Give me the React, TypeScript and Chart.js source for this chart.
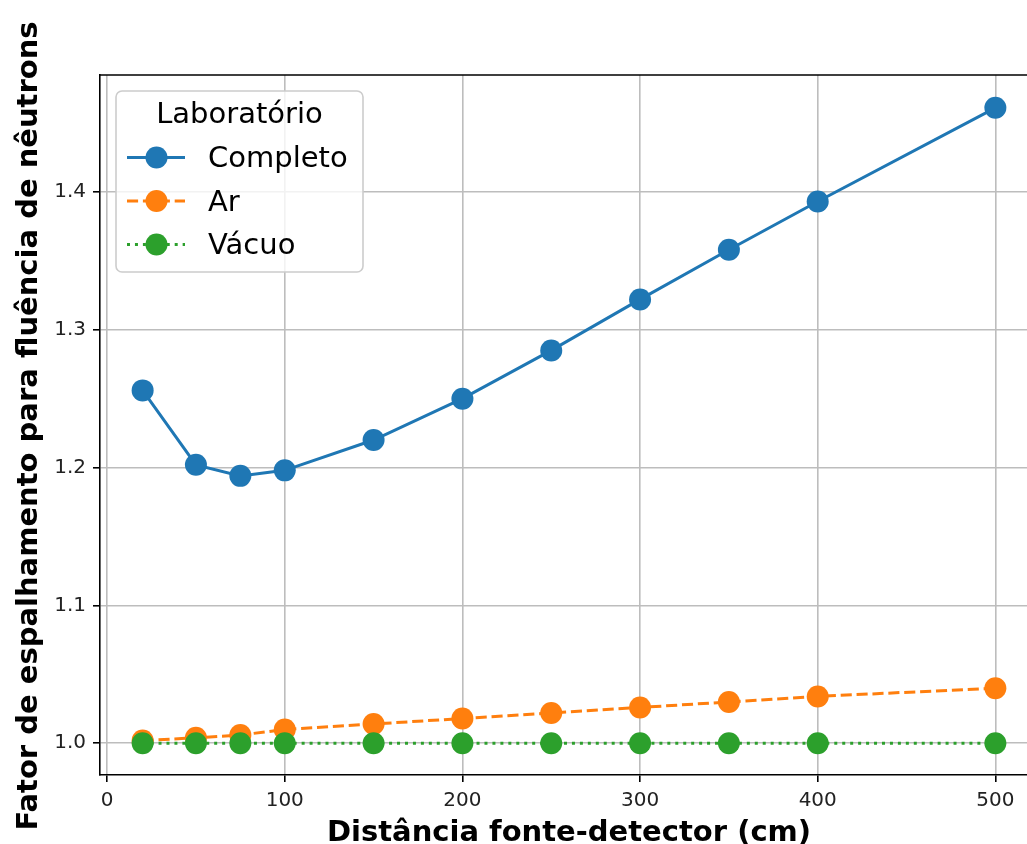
import React, { useEffect, useRef } from "react";
import { Chart, registerables } from "chart.js";

Chart.register(...registerables);

// Source-detector distances (cm)
const distances = [20, 50, 75, 100, 150, 200, 250, 300, 350, 400, 500];

// Scattering factor for neutron fluence, per laboratory configuration
const completo = [1.256, 1.202, 1.194, 1.198, 1.220, 1.250, 1.285, 1.322, 1.358, 1.393, 1.461];
const ar = [1.002, 1.004, 1.006, 1.010, 1.014, 1.018, 1.022, 1.026, 1.030, 1.034, 1.040];
const vacuo = [1.0, 1.0, 1.0, 1.0, 1.0, 1.0, 1.0, 1.0, 1.0, 1.0, 1.0];

const seriesLabels = ["Completo", "Ar", "Vácuo"];
const xTicks = [0, 100, 200, 300, 400, 500];
const yTicks = [1.0, 1.1, 1.2, 1.3, 1.4];

const legendTitle = "Laboratório";
const xTitle = "Distância fonte-detector (cm)";
const yTitle = "Fator de espalhamento para fluência de nêutrons";

const FONT = '"DejaVu Sans", "Liberation Sans", sans-serif';
const BLUE = "#1f77b4";
const ORANGE = "#ff7f0e";
const GREEN = "#2ca02c";

const toPoints = (ys: number[]) => distances.map((x, i) => ({ x, y: ys[i] }));

// Draws the top/right frame, the axis titles and a boxed legend with line + marker handles
const decorPlugin = {
  id: "decor",
  afterDraw(chart: any) {
    const { ctx, chartArea: a } = chart;
    ctx.save();

    ctx.strokeStyle = "#000";
    ctx.lineWidth = 1.6;
    ctx.beginPath();
    ctx.moveTo(a.left, a.top);
    ctx.lineTo(a.right, a.top);
    ctx.lineTo(a.right, a.bottom);
    ctx.stroke();

    ctx.fillStyle = "#000";
    ctx.font = `bold 29px ${FONT}`;
    ctx.textAlign = "center";
    ctx.textBaseline = "alphabetic";
    ctx.fillText(xTitle, (a.left + a.right) / 2, a.bottom + 66);

    ctx.save();
    ctx.translate(37, (a.top + a.bottom) / 2 + 1);
    ctx.rotate(-Math.PI / 2);
    ctx.fillText(yTitle, 0, 0);
    ctx.restore();

    // legend
    const bx = a.left + 16;
    const by = a.top + 16;
    const bw = 247;
    const bh = 181;
    ctx.beginPath();
    ctx.roundRect(bx, by, bw, bh, 6);
    ctx.fillStyle = "rgba(255,255,255,0.8)";
    ctx.fill();
    ctx.strokeStyle = "#cccccc";
    ctx.lineWidth = 1.6;
    ctx.stroke();

    ctx.fillStyle = "#000";
    ctx.font = `29px ${FONT}`;
    ctx.textAlign = "center";
    ctx.fillText(legendTitle, bx + bw / 2, by + 32);

    ctx.textAlign = "left";
    chart.data.datasets.forEach((ds: any, i: number) => {
      const cy = by + 66.5 + 43.5 * i;
      ctx.save();
      ctx.strokeStyle = ds.borderColor;
      ctx.lineWidth = ds.borderWidth;
      ctx.lineCap = "butt";
      ctx.setLineDash(ds.borderDash || []);
      ctx.beginPath();
      ctx.moveTo(bx + 11, cy);
      ctx.lineTo(bx + 69, cy);
      ctx.stroke();
      ctx.setLineDash([]);
      ctx.beginPath();
      ctx.arc(bx + 40.5, cy, ds.pointRadius, 0, Math.PI * 2);
      ctx.fillStyle = ds.pointBackgroundColor;
      ctx.fill();
      ctx.restore();
      ctx.fillStyle = "#000";
      ctx.fillText(ds.label, bx + 92, cy + 9.5);
    });

    ctx.restore();
  },
};

export default function App() {
  const canvasRef = useRef<HTMLCanvasElement | null>(null);

  useEffect(() => {
    const canvas = canvasRef.current;
    if (!canvas) return;

    const lineStyle = (color: string) => ({
      borderColor: color,
      backgroundColor: color,
      borderWidth: 3,
      pointRadius: 11,
      pointHoverRadius: 11,
      pointBorderWidth: 0,
      pointBackgroundColor: color,
      tension: 0,
      fill: false,
    });

    const gridOpts = {
      color: "#bdbdbd",
      lineWidth: 1.6,
      drawTicks: true,
      tickLength: 7,
      tickColor: "#000",
      tickWidth: 1.6,
    };

    const chart = new Chart(canvas, {
      type: "line",
      data: {
        datasets: [
          { label: seriesLabels[0], data: toPoints(completo), order: 2, ...lineStyle(BLUE) },
          { label: seriesLabels[1], data: toPoints(ar), order: 1, borderDash: [11.1, 4.8], ...lineStyle(ORANGE) },
          { label: seriesLabels[2], data: toPoints(vacuo), order: 0, borderDash: [3, 4.95], ...lineStyle(GREEN) },
        ],
      },
      options: {
        animation: false,
        responsive: false,
        maintainAspectRatio: false,
        layout: { autoPadding: false, padding: { top: 75, right: 2, left: 0, bottom: 0 } },
        plugins: {
          legend: { display: false },
          tooltip: { enabled: false },
        },
        scales: {
          x: {
            type: "linear",
            min: -4,
            max: 524,
            afterBuildTicks: (s: any) => {
              s.ticks = xTicks.map((v) => ({ value: v }));
            },
            afterFit: (s: any) => {
              s.height = 69;
              s.paddingLeft = 0;
              s.paddingRight = 0;
            },
            grid: gridOpts,
            border: { display: true, color: "#000", width: 1.6 },
            ticks: {
              autoSkip: false,
              maxRotation: 0,
              padding: 7,
              color: "#222",
              font: { family: FONT, size: 20 },
              callback: (v: any) => String(v),
            },
          },
          y: {
            type: "linear",
            min: 0.977,
            max: 1.4848,
            afterBuildTicks: (s: any) => {
              s.ticks = yTicks.map((v) => ({ value: v }));
            },
            afterFit: (s: any) => {
              s.width = 100;
              s.paddingTop = 0;
              s.paddingBottom = 0;
            },
            grid: gridOpts,
            border: { display: true, color: "#000", width: 1.6 },
            ticks: {
              autoSkip: false,
              padding: 7,
              color: "#222",
              font: { family: FONT, size: 20 },
              callback: (v: any) => Number(v).toFixed(1),
            },
          },
        },
      },
      plugins: [decorPlugin],
    } as any);

    return () => chart.destroy();
  }, []);

  return (
    <div
      style={{
        position: "absolute",
        left: 0,
        top: 0,
        width: 1027,
        height: 844,
        overflow: "hidden",
        background: "#fff",
      }}
    >
      <canvas
        ref={canvasRef}
        width={1040}
        height={844}
        style={{ display: "block", width: 1040, height: 844 }}
      />
    </div>
  );
}
